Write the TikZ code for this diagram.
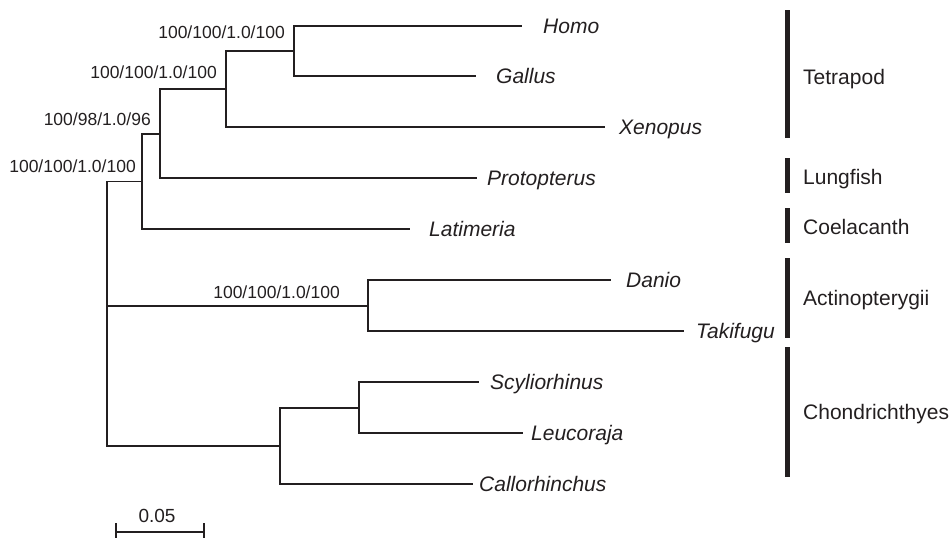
\documentclass[tikz,border=0pt]{standalone}
\usepackage{fontspec}
\setmainfont{Liberation Sans}
\definecolor{ink}{RGB}{35,31,32}
\begin{document}
\begin{tikzpicture}[x=1pt,y=-1pt,
  branch/.style={draw=ink,line width=1.4pt},
  taxon/.style={anchor=base west,inner sep=0pt,text=ink,font=\fontsize{21}{25}\selectfont\itshape},
  support/.style={anchor=base east,inner sep=0pt,text=ink,font=\fontsize{17.5}{21}\selectfont},
  clade/.style={anchor=base west,inner sep=0pt,text=ink,font=\fontsize{21}{25}\selectfont},
  cladebar/.style={draw=ink,line width=5pt},
  scalebar/.style={draw=ink,line width=1.4pt}]
\useasboundingbox (0,0) rectangle (952,538);

% internal nodes
\coordinate (root) at (107,306);
\coordinate (sarc) at (142,181.5);
\coordinate (lt)   at (160,134);
\coordinate (tet)  at (226,89);
\coordinate (hg)   at (294,51);
\coordinate (act)  at (368,306);
\coordinate (chon) at (280,446);
\coordinate (sl)   at (359,408);

% branch tips
\coordinate (eHomo) at (522,26);
\coordinate (eGallus) at (476,76);
\coordinate (eXenopus) at (605,127);
\coordinate (eProto) at (477,178);
\coordinate (eLati) at (410,229);
\coordinate (eDanio) at (611,280);
\coordinate (eTaki) at (684,331);
\coordinate (eScyl) at (479,382);
\coordinate (eLeuc) at (523,433);
\coordinate (eCall) at (473,484);

% taxon names
\node[taxon] (Homo) at (543,33.5) {Homo};
\node[taxon] (Gallus) at (496,83.5) {Gallus};
\node[taxon] (Xenopus) at (619,134.5) {Xenopus};
\node[taxon] (Protopterus) at (487,185.5) {Protopterus};
\node[taxon] (Latimeria) at (429,236.5) {Latimeria};
\node[taxon] (Danio) at (626,287.5) {Danio};
\node[taxon] (Takifugu) at (696,338.5) {Takifugu};
\node[taxon] (Scyliorhinus) at (490,389.5) {Scyliorhinus};
\node[taxon] (Leucoraja) at (531,440.5) {Leucoraja};
\node[taxon] (Callorhinchus) at (479,491.5) {Callorhinchus};

% tree
\draw[branch] (root) |- (sarc);
\draw[branch] (root) -- (act);
\draw[branch] (root) |- (chon);
\draw[branch] (sarc) |- (lt);
\draw[branch] (sarc) |- (eLati);
\draw[branch] (lt) |- (tet);
\draw[branch] (lt) |- (eProto);
\draw[branch] (tet) |- (hg);
\draw[branch] (tet) |- (eXenopus);
\draw[branch] (hg) |- (eHomo);
\draw[branch] (hg) |- (eGallus);
\draw[branch] (act) |- (eDanio);
\draw[branch] (act) |- (eTaki);
\draw[branch] (chon) |- (sl);
\draw[branch] (chon) |- (eCall);
\draw[branch] (sl) |- (eScyl);
\draw[branch] (sl) |- (eLeuc);

% support values
\node[support] (sHG) at (285,38) {100/100/1.0/100};
\node[support] (sTet) at (217,78) {100/100/1.0/100};
\node[support] (sLT) at (151,125) {100/98/1.0/96};
\node[support] (sSarc) at (136,172) {100/100/1.0/100};
\node[support] (sAct) at (340,298) {100/100/1.0/100};

% clade bars and names
\draw[cladebar] (787,10) -- (787,138);
\node[clade] (Tetrapod) at (803,84.5) {Tetrapod};
\draw[cladebar] (787,158) -- (787,193);
\node[clade] (Lungfish) at (803,184.5) {Lungfish};
\draw[cladebar] (787,208) -- (787,243);
\node[clade] (Coelacanth) at (803,234.5) {Coelacanth};
\draw[cladebar] (787,258) -- (787,338);
\node[clade] (Actinopterygii) at (803,305.5) {Actinopterygii};
\draw[cladebar] (787,347) -- (787,477);
\node[clade] (Chondrichthyes) at (803,419.5) {Chondrichthyes};

% scale bar
\coordinate (sbL) at (116,532);
\coordinate (sbR) at (204,532);
\draw[scalebar] (sbL) -- (sbR);
\draw[scalebar] (116,523) -- (116,538);
\draw[scalebar] (204,523) -- (204,538);
\node[anchor=base,inner sep=0pt,text=ink,font=\fontsize{19}{23}\selectfont] (scale) at (157,522) {0.05};
\end{tikzpicture}
\end{document}
